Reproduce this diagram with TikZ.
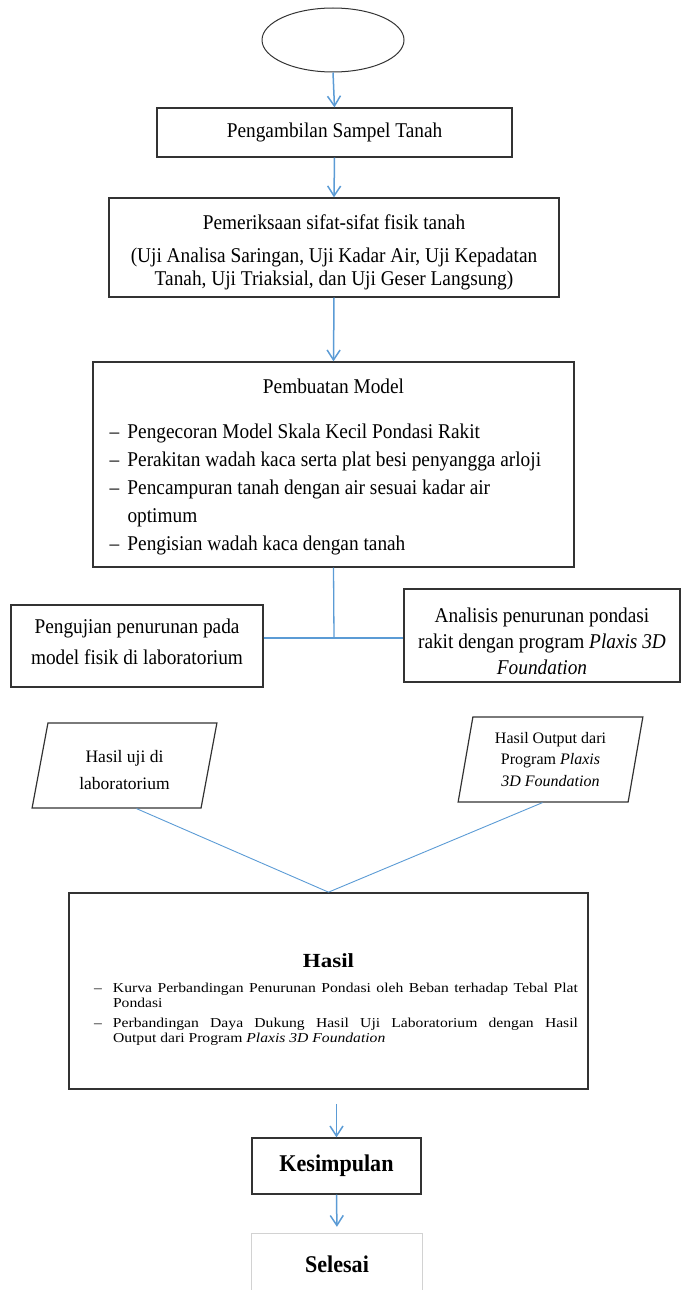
\documentclass[tikz,border=0pt]{standalone}
\usepackage{fontspec}
\setmainfont{Liberation Serif}[FakeStretch=0.92]
\newfontfamily\kecilfont{Liberation Serif}
\newfontfamily\lebarfont{Liberation Serif}[FakeStretch=1.15]
\usepackage{xcolor}
\usepackage{tikz}
\usetikzlibrary{shapes.geometric,arrows.meta}
\usepackage{array}
\definecolor{biru}{HTML}{5B9BD5}
\definecolor{abu}{HTML}{333333}

\begin{document}
\begin{tikzpicture}[x=1pt,y=-1pt,
  kotak/.style={draw=abu, line width=1.3pt, rectangle, inner sep=0pt, align=center},
  jajar/.style={draw=abu, line width=1.2pt, trapezium, trapezium left angle=79,
    trapezium right angle=101, trapezium stretches=true, inner sep=0pt, align=center},
  panah/.style={biru, line width=1.5pt, -{Straight Barb[length=10pt,width=13pt]}},
  garis/.style={biru, line width=1.3pt}]
  \useasboundingbox (0,0) rectangle (686,1290);
  % Start ellipse
  \node[draw=abu, ellipse, line width=1pt, minimum width=142, minimum height=64, inner sep=0pt] (mulai) at (333,40) {};
  % Sampling
  \node[kotak, minimum width=355, minimum height=49, font=\fontsize{21}{25}\selectfont] (sampel) at (334.5,132.5) {Pengambilan Sampel Tanah};
  % Soil tests
  \node[kotak, minimum width=450, minimum height=99, font=\fontsize{21}{23}\selectfont] (periksa) at (334,247.5)
    {\rule{0pt}{25pt}Pemeriksaan sifat-sifat fisik tanah\\[10pt]
     (Uji Analisa Saringan, Uji Kadar Air, Uji Kepadatan\\
     Tanah, Uji Triaksial, dan Uji Geser Langsung)};
  % Model making
  \node[kotak, minimum width=481, minimum height=205, font=\fontsize{21}{28}\selectfont] (model) at (333.5,464.5)
    {\begin{tabular}{@{}p{18pt}@{}p{430pt}@{}}
      \multicolumn{2}{c}{\rule{0pt}{23pt}Pembuatan Model}\\[17pt]
      – & Pengecoran Model Skala Kecil Pondasi Rakit\\
      – & Perakitan wadah kaca serta plat besi penyangga arloji\\
      – & Pencampuran tanah dengan air sesuai kadar air\newline optimum\\
      – & Pengisian wadah kaca dengan tanah
    \end{tabular}};
  % Lab test and Plaxis analysis
  \node[kotak, minimum width=252, minimum height=82, font=\fontsize{21}{31}\selectfont] (uji) at (137,646)
    {Pengujian penurunan pada\\ model fisik di laboratorium\rule[-8pt]{0pt}{0pt}};
  \node[kotak, minimum width=276, minimum height=93, font=\fontsize{21}{26}\selectfont] (analisis) at (542,635.5)
    {\rule{0pt}{27pt}Analisis penurunan pondasi\\ rakit dengan program \textit{Plaxis 3D}\\ \textit{Foundation}};
  \coordinate (cabang) at (334,638);
  % Outputs
  \node[jajar, minimum width=185, minimum height=85, font=\kecilfont\fontsize{17.5}{27}\selectfont] (hasiluji) at (124.5,765.5)
    {\rule{0pt}{21pt}Hasil uji di\\ laboratorium};
  \node[jajar, minimum width=185, minimum height=85, font=\kecilfont\fontsize{16}{21.5}\selectfont] (hasiloutput) at (550.5,759.5)
    {Hasil Output dari\\ Program \textit{Plaxis}\\ \textit{3D Foundation}};
  % Results
  \node[kotak, line width=1.7pt, minimum width=519, minimum height=196, font=\lebarfont\fontsize{13.6}{15}\selectfont] (hasil) at (328.5,991)
    {\begin{tabular}{@{\hspace{15pt}}p{19pt}@{}p{465pt}@{}}
      \multicolumn{2}{c}{\rule{0pt}{32pt}\fontsize{20}{24}\selectfont\bfseries Hasil}\\[10pt]
      – & Kurva Perbandingan Penurunan Pondasi oleh Beban terhadap Tebal Plat\linebreak Pondasi\\[20pt]
      – & Perbandingan Daya Dukung Hasil Uji Laboratorium dengan Hasil\linebreak Output dari Program \textit{Plaxis 3D Foundation}
    \end{tabular}};
  % Conclusion and end
  \node[kotak, minimum width=169, minimum height=56, font=\fontsize{24}{26}\selectfont\bfseries] (kesimpulan) at (336.5,1166) {Kesimpulan};
  \node[minimum width=170, minimum height=60, inner sep=0pt, font=\fontsize{24}{26}\selectfont\bfseries] (selesai) at (337,1264) {Selesai};
  \draw[gray!35, line width=1pt] (selesai.south west) -- (selesai.north west) -- (selesai.north east) -- (selesai.south east);
  % Connectors
  \draw[panah] (mulai.south) -- (sampel.north);
  \draw[panah] (sampel.south) -- (periksa.north);
  \draw[panah] (periksa.south) -- (model.north);
  \draw[garis] (model.south) -- (cabang);
  \draw[garis] (uji.east |- cabang) -- (analisis.west |- cabang);
  \draw[biru, line width=0.9pt] ([xshift=12pt]hasiluji.south) -- (hasil.north);
  \draw[biru, line width=0.9pt] ([xshift=-8pt]hasiloutput.south) -- (hasil.north);
  \draw[panah, shorten <=14pt] (kesimpulan.north |- hasil.south) -- (kesimpulan.north);
  \draw[panah, shorten >=7pt] (kesimpulan.south) -- (selesai.north);
\end{tikzpicture}
\end{document}
